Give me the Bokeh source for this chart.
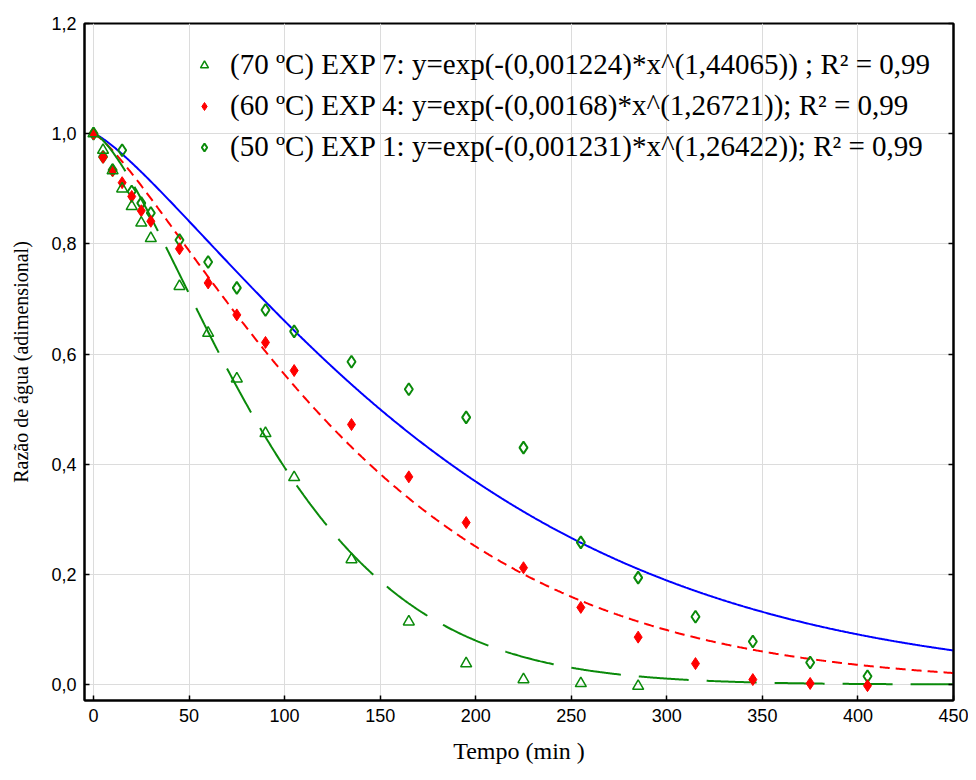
import numpy as np
from bokeh.plotting import figure
from bokeh.models import (Range1d, FixedTicker, LinearAxis, Legend, LegendItem,
                          CustomJSTickFormatter)
from bokeh.embed import file_html
from bokeh.resources import INLINE

# ---- data ----
t_exp7 = [0, 5, 10, 15, 20, 25, 30, 45, 60, 75, 90, 105, 135, 165, 195, 225, 255, 285]
y_exp7 = [1.0, 0.97, 0.933, 0.90, 0.868, 0.838, 0.81, 0.723, 0.638, 0.555, 0.456, 0.376,
          0.227, 0.114, 0.038, 0.009, 0.002, -0.003]

t_exp4 = [0, 5, 10, 15, 20, 25, 30, 45, 60, 75, 90, 105, 135, 165, 195, 225, 255, 285,
          315, 345, 375, 405]
y_exp4 = [1.0, 0.957, 0.933, 0.911, 0.886, 0.86, 0.841, 0.791, 0.729, 0.671, 0.621, 0.57,
          0.472, 0.377, 0.294, 0.212, 0.14, 0.086, 0.038, 0.009, 0.002, -0.002]

t_exp1 = [0, 5, 10, 15, 20, 25, 30, 45, 60, 75, 90, 105, 135, 165, 195, 225, 255, 285,
          315, 345, 375, 405]
y_exp1 = [1.0, 0.958, 0.934, 0.97, 0.895, 0.874, 0.856, 0.807, 0.767, 0.72, 0.68, 0.641,
          0.586, 0.536, 0.485, 0.43, 0.258, 0.194, 0.123, 0.078, 0.04, 0.015]

# fitted Page model parameters (from the legend)
k_fit = [0.001224, 0.00168, 0.001231]
n_fit = [1.44065, 1.26721, 1.26422]

labels = [
    "(70 \u00baC) EXP 7: y=exp(-(0,001224)*x^(1,44065)) ; R\u00b2 = 0,99",
    "(60 \u00baC) EXP 4: y=exp(-(0,00168)*x^(1,26721)); R\u00b2 = 0,99",
    "(50 \u00baC) EXP 1: y=exp(-(0,001231)*x^(1,26422)); R\u00b2 = 0,99",
]

x_ticks = [0, 50, 100, 150, 200, 250, 300, 350, 400, 450]
y_ticks = [0.0, 0.2, 0.4, 0.6, 0.8, 1.0, 1.2]

GREEN = "#0a8a0a"
RED = "#ff0000"
BLUE = "#0000ff"

p = figure(width=968, height=778, x_range=Range1d(-4.7, 450), y_range=Range1d(-0.029, 1.2),
           output_backend="svg", toolbar_location=None,
           min_border_left=84, min_border_top=23, min_border_right=15, min_border_bottom=78,
           x_axis_label="Tempo (min )", y_axis_label="Raz\u00e3o de \u00e1gua (adimensional)")

p.background_fill_color = "white"
p.outline_line_color = "black"
p.outline_line_width = 2

xt = FixedTicker(ticks=x_ticks)
yt = FixedTicker(ticks=y_ticks)
fmt = CustomJSTickFormatter(code="return tick.toFixed(1).replace('.', ',');")

for ax in (p.xaxis[0], p.yaxis[0]):
    ax.axis_line_width = 2
    ax.major_tick_in = 5
    ax.major_tick_out = 0
    ax.major_tick_line_width = 1.5
    ax.minor_tick_line_color = None
    ax.major_label_text_font = "Liberation Sans"
    ax.major_label_text_font_size = "18px"
    ax.major_label_text_color = "black"
    ax.major_label_standoff = 8
    ax.axis_label_text_font = "Liberation Serif"
    ax.axis_label_text_font_style = "normal"
    ax.axis_label_text_color = "black"

p.xaxis[0].ticker = xt
p.yaxis[0].ticker = yt
p.yaxis[0].formatter = fmt
p.xaxis[0].axis_label_text_font_size = "24px"
p.xaxis[0].axis_label_standoff = 13
p.yaxis[0].axis_label_text_font_size = "20px"
p.yaxis[0].axis_label_standoff = 16

right = LinearAxis(ticker=yt, formatter=CustomJSTickFormatter(code="return '';"),
                   major_tick_in=5, major_tick_out=0, axis_line_width=2,
                   major_tick_line_width=1.5, minor_tick_line_color=None,
                   major_label_standoff=0)
p.add_layout(right, "right")

p.xgrid.ticker = xt
p.ygrid.ticker = yt
p.xgrid.grid_line_color = "#dcdcdc"
p.ygrid.grid_line_color = "#dcdcdc"

# fitted curves
xs = np.linspace(0, 450, 901)
y_fit = [np.exp(-k * xs ** n) for k, n in zip(k_fit, n_fit)]
p.line(xs, y_fit[2], line_color=BLUE, line_width=2)
p.line(xs, y_fit[1], line_color=RED, line_width=2, line_dash="10 6")
p.line(xs, y_fit[0], line_color=GREEN, line_width=2, line_dash="50 18")

# data points
r1 = p.scatter(t_exp1, y_exp1, marker="diamond", size=12, fill_color=None,
               line_color=GREEN, line_width=2)
r4 = p.scatter(t_exp4, y_exp4, marker="diamond", size=12, fill_color=RED,
               line_color=RED, line_width=1)
r7 = p.scatter(t_exp7, y_exp7, marker="triangle", size=11, fill_color=None,
               line_color=GREEN, line_width=1.5)

legend = Legend(items=[LegendItem(label=labels[0], renderers=[r7]),
                       LegendItem(label=labels[1], renderers=[r4]),
                       LegendItem(label=labels[2], renderers=[r1])],
                location=(100, 527))
legend.background_fill_alpha = 0
legend.border_line_alpha = 0
legend.label_text_font = "Liberation Serif"
legend.label_text_font_size = "29px"
legend.label_text_color = "black"
legend.glyph_width = 20
legend.glyph_height = 20
legend.label_height = 31
legend.spacing = 8
legend.padding = 10
legend.label_standoff = 16
p.add_layout(legend)

open("out.html", "w").write(file_html(p, INLINE))
